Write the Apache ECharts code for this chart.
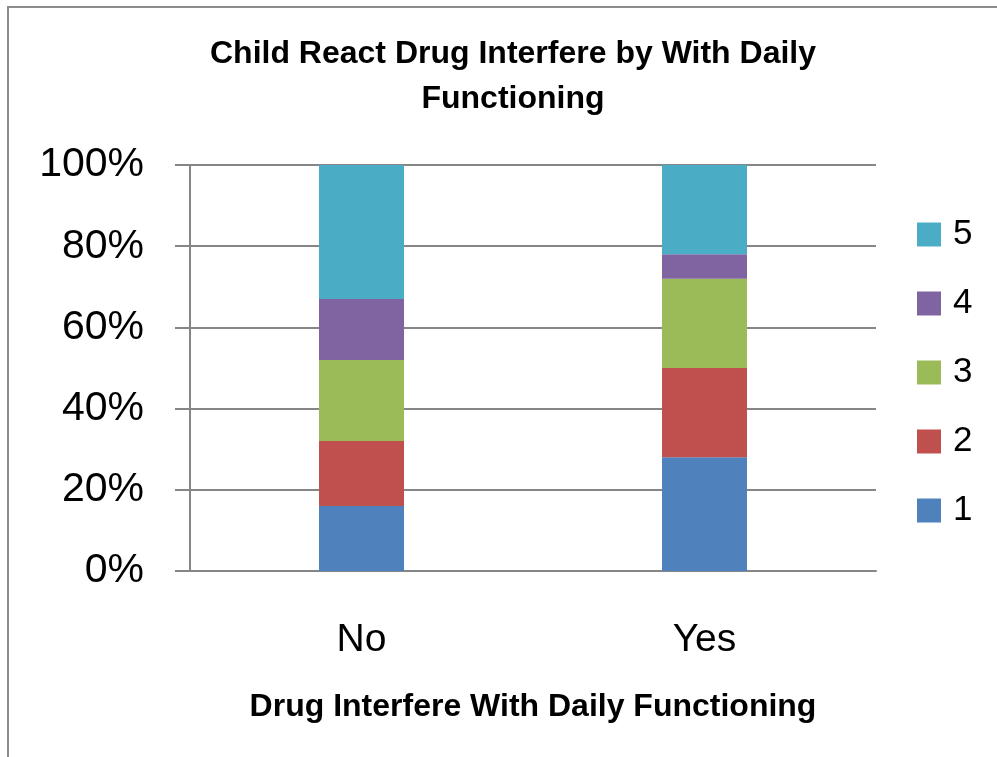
<!DOCTYPE html>
<html>
<head>
<meta charset="utf-8">
<script src="https://cdn.jsdelivr.net/npm/echarts@6/dist/echarts.min.js"></script>
<style>
  html, body { margin: 0; padding: 0; background: #fff; }
  #chart { width: 997px; height: 757px; }
</style>
</head>
<body>
<div id="chart"></div>
<script>
  // categories on the x axis
  const categories = ['No', 'Yes']
  // percent shares for each response level (1 at the bottom)
  const level1 = [16, 28]
  const level2 = [16, 22]
  const level3 = [20, 22]
  const level4 = [15, 6]
  const level5 = [33, 22]
  const levelNames = ['1', '2', '3', '4', '5']
  const yTicks = [0, 20, 40, 60, 80, 100]

  const levels = [level1, level2, level3, level4, level5]
  const colors = ['#4f81bd', '#c0504d', '#9bbb59', '#8064a2', '#4bacc6']
  const gray = '#868686'
  const boldFont = "'Liberation Sans Narrow', 'Liberation Sans', sans-serif"

  const option = {
    color: colors,
    animation: false,
    title: {
      text: 'Child React Drug Interfere by With Daily\nFunctioning',
      left: 508,
      top: 27,
      textAlign: 'center',
      textStyle: {
        color: '#000',
        fontFamily: boldFont,
        fontWeight: 'bold',
        fontSize: 32,
        lineHeight: 45
      }
    },
    legend: {
      data: levelNames.slice().reverse(),
      orient: 'vertical',
      left: 912,
      top: 212,
      itemWidth: 24,
      itemHeight: 24,
      itemGap: 34,
      icon: 'rect',
      textStyle: {
        color: '#000',
        fontFamily: "'Liberation Sans', sans-serif",
        fontSize: 35,
        lineHeight: 24,
        padding: [0, 0, 0, 7]
      }
    },
    grid: {
      left: 190,
      right: 121,
      top: 165,
      bottom: 186,
      containLabel: false
    },
    xAxis: {
      type: 'category',
      data: categories,
      name: 'Drug Interfere With Daily Functioning',
      nameLocation: 'middle',
      nameGap: 121,
      nameTextStyle: {
        color: '#000',
        fontFamily: boldFont,
        fontWeight: 'bold',
        fontSize: 32,
        lineHeight: 30
      },
      axisLine: { lineStyle: { color: gray, width: 2 } },
      axisTick: { show: false },
      axisLabel: {
        color: '#000',
        fontFamily: "'Liberation Sans', sans-serif",
        fontSize: 39,
        lineHeight: 38,
        margin: 50
      }
    },
    yAxis: {
      type: 'value',
      min: yTicks[0],
      max: yTicks[yTicks.length - 1],
      interval: 20,
      axisLine: { show: true, lineStyle: { color: gray, width: 2 } },
      axisTick: { show: true, inside: false, length: 15, lineStyle: { color: gray, width: 2 } },
      splitLine: { lineStyle: { color: gray, width: 2 } },
      axisLabel: {
        color: '#000',
        fontFamily: "'Liberation Sans', sans-serif",
        fontSize: 41,
        margin: 46,
        formatter: '{value}%'
      }
    },
    graphic: [{
      type: 'rect',
      shape: { x: 8, y: 7, width: 1200, height: 1000 },
      style: { fill: 'none', stroke: '#8c8c8c', lineWidth: 2 },
      silent: true
    }],
    series: levels.map((vals, i) => ({
      name: levelNames[i],
      type: 'bar',
      stack: 'total',
      barWidth: 85,
      data: vals
    }))
  }

  const chart = echarts.init(document.getElementById('chart'))
  chart.setOption(option)
  window.addEventListener('resize', () => chart.resize())
</script>
</body>
</html>
